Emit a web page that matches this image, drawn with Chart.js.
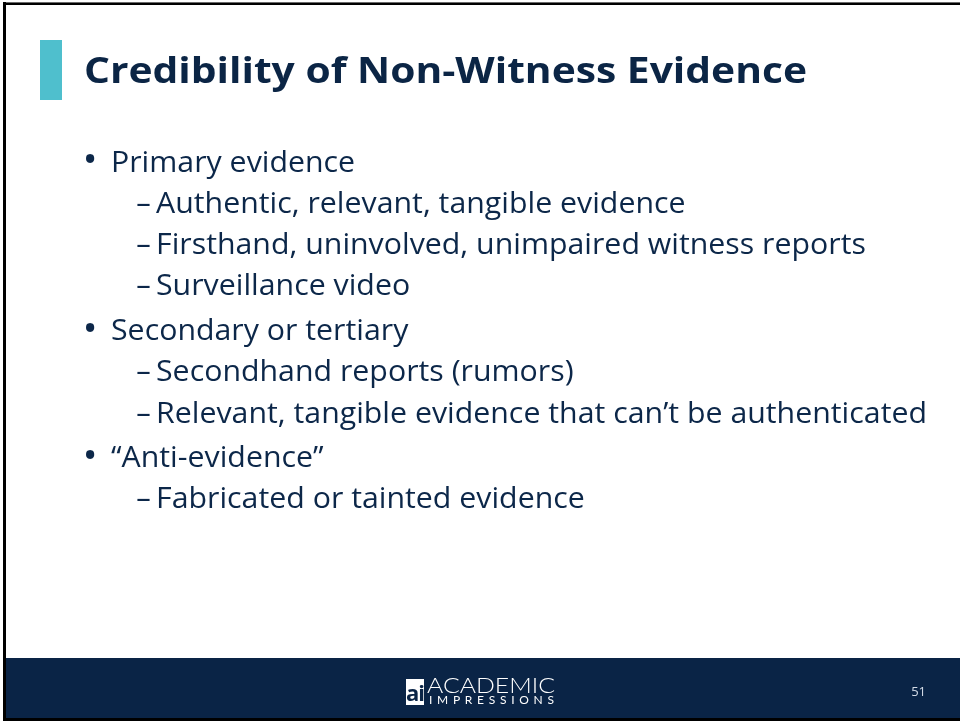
<!DOCTYPE html>
<html>
<head>
<meta charset="utf-8">
<script src="https://cdn.jsdelivr.net/npm/chart.js@4.4.1/dist/chart.umd.min.js"></script>
<style>
  html, body { margin: 0; padding: 0; background: #ffffff; }
  #slide { position: relative; width: 960px; height: 721px; overflow: hidden; }
  #bg { position: absolute; left: 0; top: 0; }
  #txt { position: absolute; left: 0; top: 0; width: 960px; height: 721px; }
  .t { position: absolute; white-space: nowrap; line-height: 1; font-family: "Open Sans", "Noto Sans", sans-serif; transform-origin: 0 50%; }
</style>
</head>
<body>
<div id="slide">
  <canvas id="bg" width="960" height="721"></canvas>
  <div id="txt"></div>
</div>
<script>
// ---- content ----
const titleText = "Credibility of Non-Witness Evidence";
const bulletLevels = [0, 1, 1, 1, 0, 1, 1, 0, 1];
const bulletTexts = [
  "Primary evidence",
  "Authentic, relevant, tangible evidence",
  "Firsthand, uninvolved, unimpaired witness reports",
  "Surveillance video",
  "Secondary or tertiary",
  "Secondhand reports (rumors)",
  "Relevant, tangible evidence that can\u2019t be authenticated",
  "\u201CAnti-evidence\u201D",
  "Fabricated or tainted evidence"
];
const bulletMarks = ["\u2022", "\u2013"];
const brandLines = ["ACADEMIC", "IMPRESSIONS"];
const logoLetters = "ai";
const pageNumber = "51";

// ---- colours ----
const NAVY = "#0a2446";
const TEXT = "#0c2749";
const ACCENT = "#4fbfcd";

// ---- background drawn through Chart.js ----
const framePlugin = {
  id: "slideFrame",
  beforeDraw(chart) {
    const c = chart.ctx;
    c.save();
    c.fillStyle = "#ffffff";
    c.fillRect(0, 0, 960, 721);
    // accent bar
    c.fillStyle = ACCENT;
    c.fillRect(40, 40, 22, 60);
    // footer band
    c.fillStyle = NAVY;
    c.fillRect(5, 658, 955, 62);
    // frame (top, left, bottom)
    c.fillStyle = "#6b6b6b";
    c.fillRect(3, 2, 957, 1);
    c.fillStyle = "#000000";
    c.fillRect(3, 3, 957, 2);
    c.fillRect(3, 2, 3, 719);
    c.fillRect(3, 718, 957, 3);
    // logo box
    c.fillStyle = "#ffffff";
    c.fillRect(406, 679, 18, 26);
    c.restore();
  }
};

new Chart(document.getElementById("bg"), {
  type: "bar",
  data: { labels: [], datasets: [] },
  options: {
    responsive: false,
    animation: false,
    events: [],
    layout: { padding: 0 },
    plugins: { legend: { display: false }, tooltip: { enabled: false }, title: { display: false } },
    scales: { x: { display: false }, y: { display: false } }
  },
  plugins: [framePlugin]
});

// ---- text layout ----
const holder = document.getElementById("txt");
const mctx = document.createElement("canvas").getContext("2d");
const FAMILY = '"Open Sans", "Noto Sans", sans-serif';

function metrics(size, weight, family) {
  mctx.font = `${weight} ${size}px ${family || FAMILY}`;
  const m = mctx.measureText("Hg");
  return { a: m.fontBoundingBoxAscent, d: m.fontBoundingBoxDescent };
}
function widthOf(str, size, weight, family) {
  mctx.font = `${weight} ${size}px ${family || FAMILY}`;
  return mctx.measureText(str).width;
}
function addText(str, left, baseline, size, weight, color, opts = {}) {
  const el = document.createElement("div");
  el.className = "t";
  el.textContent = str;
  el.style.fontSize = size + "px";
  el.style.fontWeight = weight;
  el.style.color = color;
  if (opts.letterSpacing) el.style.letterSpacing = opts.letterSpacing + "px";
  if (opts.family) el.style.fontFamily = opts.family;
  if (opts.sx) el.style.transform = `scaleX(${opts.sx})`;
  const m = metrics(size, weight, opts.family);
  const top = baseline - ((size - (m.a + m.d)) / 2 + m.a);
  el.style.top = top + "px";
  if (opts.center) {
    el.style.left = (left - 50) + "px";
    el.style.width = "100px";
    el.style.textAlign = "center";
  } else if (opts.right) {
    el.style.left = (left - 100) + "px";
    el.style.width = "100px";
    el.style.textAlign = "right";
  } else {
    el.style.left = left + "px";
  }
  holder.appendChild(el);
  return el;
}

// title: size chosen for cap height, compressed to reference width
const titleSize = 35;
const titleSx = 723 / widthOf(titleText, titleSize, 700);
addText(titleText, 84, 83, titleSize, 700, "#0b2545", { sx: titleSx });

// body: size chosen for cap height, compressed to fit longest line width
const bodySize = 29;
const bodySx = 771 / widthOf(bulletTexts[6], bodySize, 400);

const STEP = 41.3, GROUP_GAP = 3.2;
let base = 171.5;
const indentText = [111, 156];
const indentMark = [90, 143.5];
bulletTexts.forEach((txt, i) => {
  const lvl = bulletLevels[i];
  if (i > 0) base += STEP + (lvl === 0 ? GROUP_GAP : 0);
  if (lvl === 0) {
    addText(bulletMarks[0], indentMark[0], base + 2, bodySize * 1.35, 400, TEXT, { center: true });
  } else {
    addText(bulletMarks[1], indentMark[1], base, bodySize, 400, TEXT, { center: true });
  }
  addText(txt, indentText[lvl], base, bodySize, 400, TEXT, { sx: bodySx });
});

// footer
const BRAND = 'Lato, "Open Sans", sans-serif';
addText(logoLetters, 415, 701, 22, 700, NAVY, { center: true, letterSpacing: -1 });
const acSize = 21;
addText(brandLines[0], 427, 693, acSize, 300, "#ffffff", { family: BRAND, sx: 128 / widthOf(brandLines[0], acSize, 300, BRAND) });
const impSize = 12;
const impNat = widthOf(brandLines[1], impSize, 400, BRAND);
const impLs = (125 - impNat) / (brandLines[1].length - 1);
addText(brandLines[1], 429, 704.5, impSize, 400, "#ffffff", { family: BRAND, letterSpacing: impLs });
addText(pageNumber, 926, 696, 13, 400, "#d5dde8", { right: true });
</script>
</body>
</html>
